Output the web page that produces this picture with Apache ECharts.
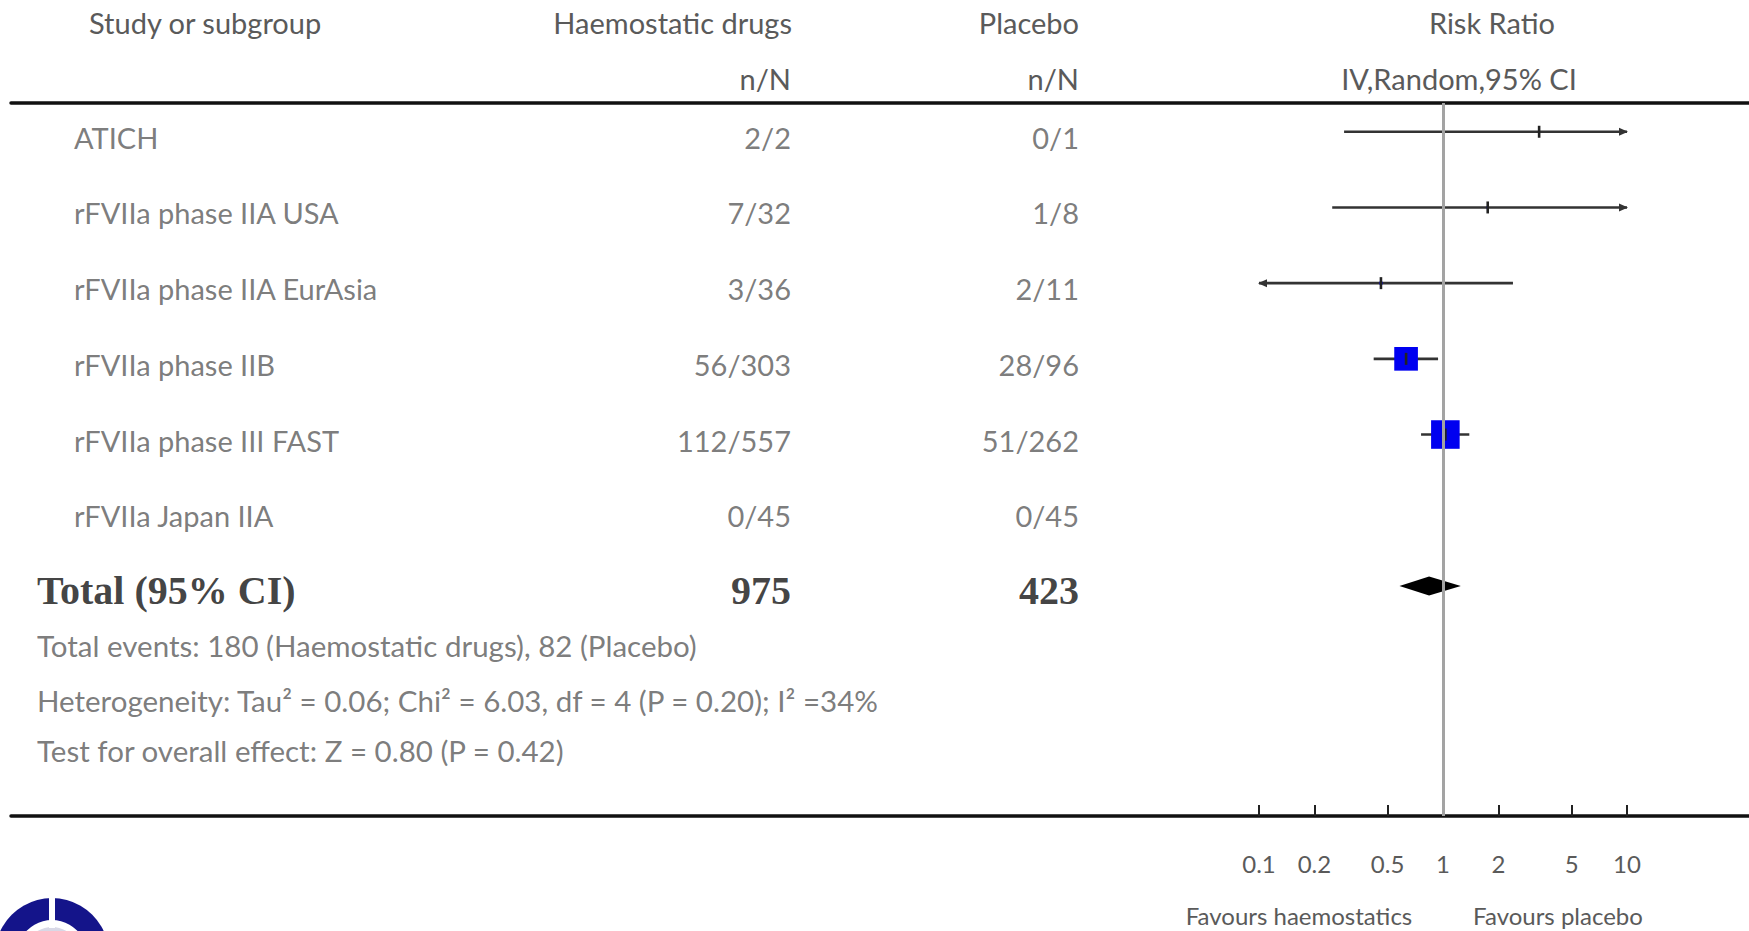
<!DOCTYPE html>
<html>
<head>
<meta charset="utf-8">
<title>Haemostatic drugs vs placebo – Risk Ratio</title>
<script src="https://cdn.jsdelivr.net/npm/echarts@6/dist/echarts.min.js"></script>
<style>
  html, body { margin: 0; padding: 0; background: #ffffff; }
  #chart { width: 1749px; height: 931px; }
</style>
</head>
<body>
<div id="chart"></div>
<script>
// ---- data ----
const studyNames = ['ATICH', 'rFVIIa phase IIA USA', 'rFVIIa phase IIA EurAsia',
  'rFVIIa phase IIB', 'rFVIIa phase III FAST', 'rFVIIa Japan IIA'];
const drugEvents = ['2/2', '7/32', '3/36', '56/303', '112/557', '0/45'];
const placeboEvents = ['0/1', '1/8', '2/11', '28/96', '51/262', '0/45'];
const riskRatio = [3.33, 1.75, 0.46, 0.63, 1.03, null];
const ciLower = [0.29, 0.25, 0.09, 0.42, 0.76, null];
const ciUpper = [38.8, 12.3, 2.40, 0.94, 1.39, null];
const weightPct = [2.5, 3.8, 5.2, 40.1, 48.4, null];
const pooledEstimate = [0.84, 0.58, 1.25]; // RR, lower, upper
const totalLabel = 'Total (95% CI)';
const totalCounts = ['975', '423'];
const footnotes = [
  'Total events: 180 (Haemostatic drugs), 82 (Placebo)',
  'Heterogeneity: Tau\u00B2 = 0.06; Chi\u00B2 = 6.03, df = 4 (P = 0.20); I\u00B2 =34%',
  'Test for overall effect: Z = 0.80 (P = 0.42)'
];
const columnHeaders = ['Study or subgroup', 'Haemostatic drugs', 'Placebo', 'Risk Ratio'];
const subHeaders = ['n/N', 'n/N', 'IV,Random,95% CI'];
const tickValues = [0.1, 0.2, 0.5, 1, 2, 5, 10];
const tickLabels = ['0.1', '0.2', '0.5', '1', '2', '5', '10'];
const favourLabels = ['Favours haemostatics', 'Favours placebo'];

// ---- layout & style ----
const SANS = 'Lato, "Open Sans", sans-serif';
const SERIF = '"Liberation Serif", "DejaVu Serif", serif';
const GREY = '#5a5a5a';
const Y_MIN = -0.38, Y_MAX = 9.04;
const X_MIN = Math.log10(tickValues[0]);
const X_MAX = Math.log10(tickValues[tickValues.length - 1]);
const TOTAL_ROW = studyNames.length;
const FOOT_ROWS = [6.79, 7.51, 8.18];
const COL = { name: 74, drug: 791, placebo: 1079, total: 37 };
const BOX_SCALE = 0.59;

const chart = echarts.init(document.getElementById('chart'), null, { renderer: 'svg' });

function textSeries(texts, rows, x, align, style, dy) {
  return {
    type: 'scatter', xAxisIndex: 0, yAxisIndex: 0, symbolSize: 0, silent: true, z: 5,
    data: texts.map((t, i) => ({ name: String(t), value: [x, rows[i]] })),
    label: Object.assign({
      show: true, position: 'inside', formatter: '{b}', align: align,
      verticalAlign: 'middle', offset: [0, dy]
    }, style)
  };
}

const rowStyle = { fontFamily: SANS, fontSize: 29, color: GREY };
const totalStyle = { fontFamily: SERIF, fontSize: 40, fontWeight: 'bold', color: '#111' };
const footStyle = { fontFamily: SANS, fontSize: 29.5, color: GREY };
const studyRows = studyNames.map((_, i) => i);

const studyData = [];
studyNames.forEach((_, i) => {
  if (riskRatio[i] == null) return;
  studyData.push([Math.log10(ciLower[i]), Math.log10(ciUpper[i]), Math.log10(riskRatio[i]), i, weightPct[i]]);
});

function renderStudy(params, api) {
  const lo = api.value(0), hi = api.value(1), est = api.value(2), row = api.value(3), w = api.value(4);
  const y = api.coord([0, row])[1];
  const xl = api.coord([Math.max(lo, X_MIN), row])[0];
  const xr = api.coord([Math.min(hi, X_MAX), row])[0];
  const xe = api.coord([est, row])[0];
  const ink = '#333333';
  const children = [{
    type: 'line', shape: { x1: xl, y1: y, x2: xr, y2: y },
    style: { stroke: ink, lineWidth: 2.6 }
  }];
  if (lo < X_MIN) {
    children.push({ type: 'polygon', shape: { points: [[xl - 1, y], [xl + 8, y - 4], [xl + 8, y + 4]] }, style: { fill: ink } });
  }
  if (hi > X_MAX) {
    children.push({ type: 'polygon', shape: { points: [[xr + 1, y], [xr - 8, y - 4], [xr - 8, y + 4]] }, style: { fill: ink } });
  }
  const side = BOX_SCALE * w;
  children.push({ type: 'rect', shape: { x: xe - side / 2, y: y - side / 2, width: side, height: side }, style: { fill: '#0000f0' } });
  children.push({ type: 'rect', shape: { x: xe - 1.3, y: y - 6, width: 2.6, height: 12 }, style: { fill: '#222' } });
  return { type: 'group', children: children };
}

function renderDiamond(params, api) {
  const row = api.value(3);
  const p = (v) => api.coord([v, row]);
  const l = p(api.value(0)), r = p(api.value(1)), c = p(api.value(2));
  const h = 9.5;
  return {
    type: 'polygon',
    shape: { points: [[l[0], c[1]], [c[0], c[1] - h], [r[0], c[1]], [c[0], c[1] + h]] },
    style: { fill: '#000' }
  };
}

function tickLabelFor(v) {
  for (let i = 0; i < tickValues.length; i++) {
    if (Math.abs(Math.log10(tickValues[i]) - v) < 1e-6) return tickLabels[i];
  }
  return '';
}

const headerText = (text, x, y, align, size) => ({
  type: 'text', x: x, y: y, silent: true,
  style: { text: text, fill: GREY, fontFamily: SANS, fontSize: size || 29,
    align: align, verticalAlign: 'middle', textAlign: align, textVerticalAlign: 'middle' }
});

const option = {
  animation: false,
  backgroundColor: '#ffffff',
  grid: [
    { left: 11, right: 0, top: 103, bottom: 115 },
    { left: 1259, right: 122, top: 103, bottom: 115 }
  ],
  xAxis: [
    { gridIndex: 0, type: 'value', min: 11, max: 1749, position: 'bottom',
      axisLine: { show: true, onZero: false, lineStyle: { color: '#111', width: 3.5 } },
      axisTick: { show: false }, axisLabel: { show: false }, splitLine: { show: false } },
    { gridIndex: 0, type: 'value', min: 11, max: 1749, position: 'top',
      axisLine: { show: true, onZero: false, lineStyle: { color: '#111', width: 3.5 } },
      axisTick: { show: false }, axisLabel: { show: false }, splitLine: { show: false } },
    { gridIndex: 1, type: 'value', min: X_MIN, max: X_MAX, position: 'bottom',
      axisLine: { show: false, onZero: false },
      axisTick: { show: true, inside: true, length: 11, customValues: tickValues.map(Math.log10),
        lineStyle: { color: '#222', width: 2 } },
      axisLabel: { show: true, customValues: tickValues.map(Math.log10), margin: 35,
        formatter: tickLabelFor, fontFamily: SANS, fontSize: 24, color: GREY },
      splitLine: { show: false } }
  ],
  yAxis: [
    { gridIndex: 0, type: 'value', inverse: true, min: Y_MIN, max: Y_MAX, show: false },
    { gridIndex: 1, type: 'value', inverse: true, min: Y_MIN, max: Y_MAX, show: false }
  ],
  graphic: [
    headerText(columnHeaders[0], 89, 22, 'left'),
    headerText(columnHeaders[1], 792, 22, 'right'),
    headerText(columnHeaders[2], 1079, 22, 'right'),
    headerText(columnHeaders[3], 1492, 22, 'center'),
    headerText(subHeaders[0], 791, 78, 'right'),
    headerText(subHeaders[1], 1079, 78, 'right'),
    headerText(subHeaders[2], 1459, 78, 'center'),
    headerText(favourLabels[0], 1299, 915, 'center', 24),
    headerText(favourLabels[1], 1558, 915, 'center', 24),
    // emblem in the lower-left corner
    { type: 'group', silent: true, children: [
      { type: 'circle', shape: { cx: 52, cy: 955, r: 57 }, style: { fill: '#14148a' } },
      { type: 'circle', shape: { cx: 52, cy: 955, r: 35 }, style: { fill: '#ffffff' } },
      { type: 'circle', shape: { cx: 52, cy: 955, r: 28 }, style: { fill: '#d8d8e6' } },
      { type: 'rect', shape: { x: 49, y: 894, width: 6, height: 34 }, style: { fill: '#ffffff' } }
    ] }
  ],
  series: [
    textSeries(studyNames, studyRows, COL.name, 'left', rowStyle, 5.5),
    textSeries(drugEvents, studyRows, COL.drug, 'right', rowStyle, 5.5),
    textSeries(placeboEvents, studyRows, COL.placebo, 'right', rowStyle, 5.5),
    textSeries([totalLabel], [TOTAL_ROW], COL.total, 'left', totalStyle, 5),
    textSeries([totalCounts[0]], [TOTAL_ROW], COL.drug, 'right', totalStyle, 5),
    textSeries([totalCounts[1]], [TOTAL_ROW], COL.placebo, 'right', totalStyle, 5),
    textSeries(footnotes, FOOT_ROWS, COL.total, 'left', footStyle, 0),
    {
      type: 'line', xAxisIndex: 2, yAxisIndex: 1, data: [], silent: true, z: 1,
      markLine: {
        silent: true, symbol: ['none', 'none'], label: { show: false },
        lineStyle: { color: '#a3a3a3', width: 3, type: 'solid' },
        data: [{ xAxis: 0 }]
      }
    },
    {
      type: 'custom', xAxisIndex: 2, yAxisIndex: 1, silent: true, z: 3,
      renderItem: renderStudy,
      encode: { x: [0, 1, 2], y: 3 },
      data: studyData
    },
    {
      type: 'custom', xAxisIndex: 2, yAxisIndex: 1, silent: true, z: 3,
      renderItem: renderDiamond,
      encode: { x: [0, 1, 2], y: 3 },
      data: [[Math.log10(pooledEstimate[1]), Math.log10(pooledEstimate[2]), Math.log10(pooledEstimate[0]), TOTAL_ROW]]
    }
  ]
};

chart.setOption(option);
</script>
</body>
</html>
